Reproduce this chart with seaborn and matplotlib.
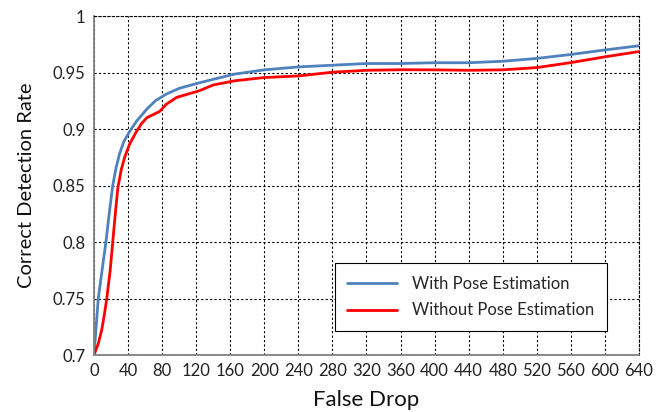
import pandas as pd
import matplotlib
matplotlib.use("Agg")
import matplotlib.pyplot as plt
import seaborn as sns

# data
with_x = [0, 5, 10, 14, 18, 22, 26, 30, 35, 42, 50, 62, 72, 85, 100, 124, 140, 165, 200,
          240, 280, 320, 360, 400, 440, 480, 520, 560, 600, 640]
with_y = [0.700, 0.750, 0.778, 0.800, 0.826, 0.850, 0.866, 0.878, 0.889, 0.898, 0.907, 0.9176, 0.925, 0.931,
          0.936, 0.941, 0.944, 0.9486, 0.9524, 0.955, 0.9565, 0.958, 0.958, 0.9587, 0.9587, 0.960,
          0.9625, 0.966, 0.970, 0.9737]

without_x = [0, 5, 9, 12, 15, 19, 22, 25, 28, 32, 36, 42, 50, 56, 62, 70, 77, 85, 97, 124,
             140, 165, 200, 240, 280, 320, 360, 400, 440, 480, 520, 560, 600, 640]
without_y = [0.700, 0.710, 0.722, 0.735, 0.750, 0.775, 0.800, 0.825, 0.848, 0.864, 0.875, 0.887, 0.898, 0.905,
             0.910, 0.913, 0.9155, 0.922, 0.928, 0.934, 0.939, 0.9427, 0.9456, 0.947, 0.9503, 0.952,
             0.9525, 0.9524, 0.952, 0.9524, 0.9544, 0.9588, 0.9639, 0.9686]

series_names = ["With Pose Estimation", "Without Pose Estimation"]
x_ticks = list(range(0, 641, 40))
y_ticks = [0.7, 0.75, 0.8, 0.85, 0.9, 0.95, 1.0]
y_tick_labels = ["0.7", "0.75", "0.8", "0.85", "0.9", "0.95", "1"]

df = pd.concat([
    pd.DataFrame({"False Drop": with_x, "Rate": with_y, "Series": series_names[0]}),
    pd.DataFrame({"False Drop": without_x, "Rate": without_y, "Series": series_names[1]}),
])

sns.set_theme(style="white")
plt.rcParams['font.family'] = ['Lato', 'DejaVu Sans']

fig = plt.figure(figsize=(6.56, 4.12), dpi=100)
ax = fig.add_axes([0.1433, 0.1383, 0.8307, 0.8227])

ax = sns.lineplot(data=df, x="False Drop", y="Rate", hue="Series",
                  palette={series_names[0]: "#4F81BD", series_names[1]: "#FF0000"},
                  linewidth=2, ax=ax, sort=True, estimator=None)

ax.set_xlim(0, 640)
ax.set_ylim(0.7, 1.0)
ax.set_xticks(x_ticks)
ax.set_yticks(y_ticks)
ax.set_yticklabels(y_tick_labels)
ax.tick_params(axis="both", labelsize=12, length=0, pad=6, colors="#222222")

# dashed grid like the Excel original
ax.grid(True, color="black", linestyle=(0, (2, 2)), linewidth=0.8)
ax.set_axisbelow(True)
for side in ["top", "right"]:
    ax.spines[side].set_linestyle((0, (2, 2)))
    ax.spines[side].set_color("black")
    ax.spines[side].set_linewidth(0.8)
for side in ["left", "bottom"]:
    ax.spines[side].set_color("#808080")
    ax.spines[side].set_linewidth(1.3)

ax.set_xlabel("False Drop", fontsize=16, labelpad=8, color="#111111")
ax.set_ylabel("Correct Detection Rate", fontsize=14.5, labelpad=13, color="#111111")

leg = ax.legend(loc="lower right", bbox_to_anchor=(0.941, 0.071), borderaxespad=0,
                fontsize=12, frameon=True, fancybox=False, edgecolor="black",
                handlelength=3.0, handletextpad=0.9, borderpad=0.75, labelspacing=0.65,
                framealpha=1)
leg.get_frame().set_linewidth(0.8)
for line in leg.get_lines():
    line.set_linewidth(2)

fig.savefig("out.png", dpi=100)
